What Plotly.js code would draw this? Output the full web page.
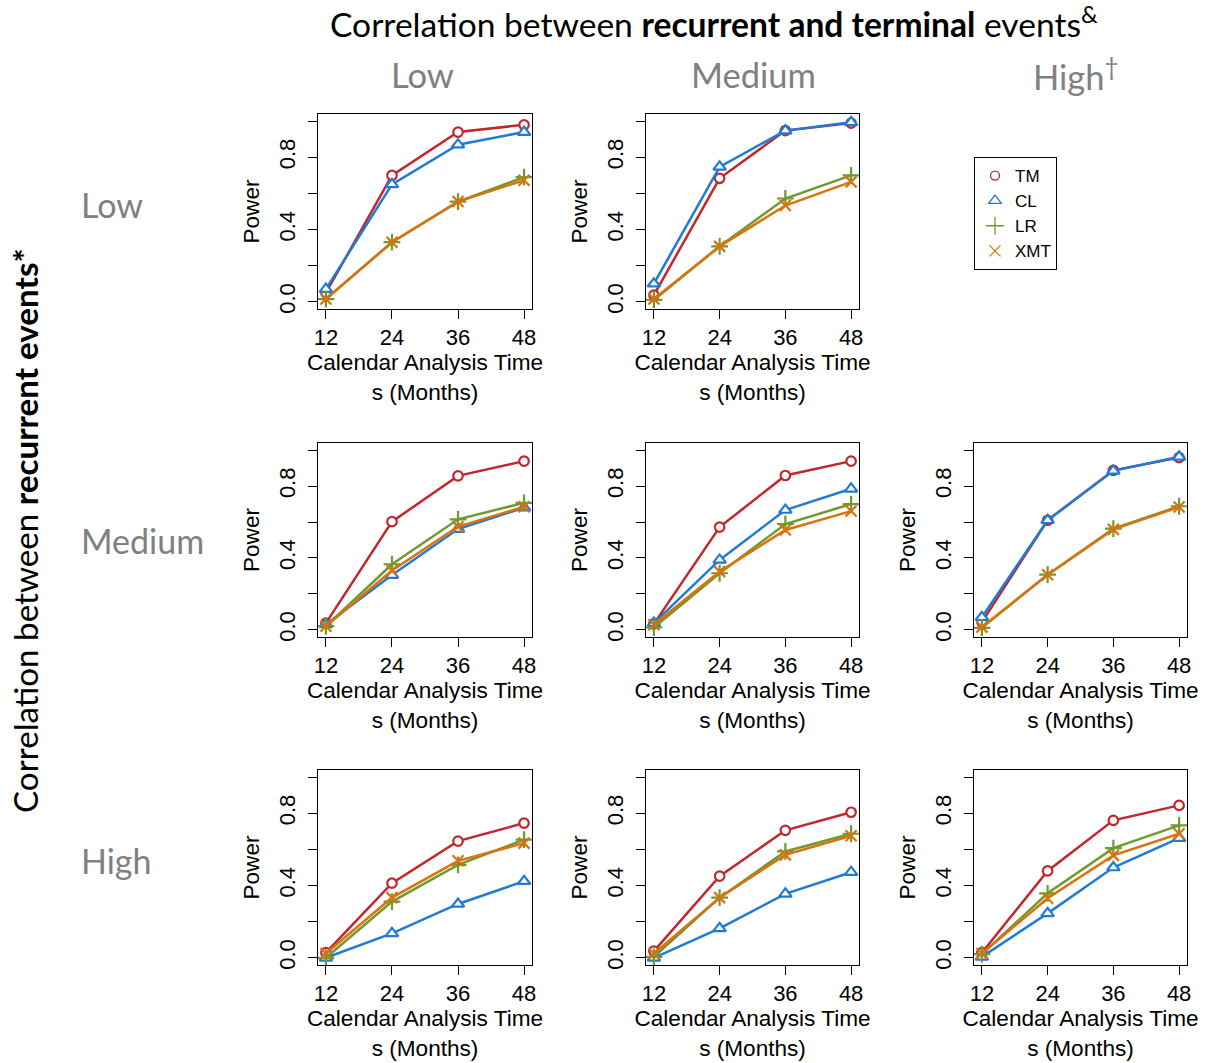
<!DOCTYPE html>
<html>
<head>
<meta charset="utf-8">
<script src="https://cdn.plot.ly/plotly-3.0.1.min.js"></script>
<style>body{margin:0;background:#fff}#chart{width:1206px;height:1063px}</style>
</head>
<body>
<div id="chart"></div>
<script>
// Calendar analysis times (months)
const months = [12, 24, 36, 48];
const methods = ['TM', 'CL', 'LR', 'XMT'];
const levels = ['Low', 'Medium', 'High'];

// Power values: rows = correlation between recurrent events, cols = recurrent-terminal correlation
// Row Low
const recLow_terLow_TM  = [0.05, 0.70, 0.94, 0.98];
const recLow_terLow_CL  = [0.07, 0.65, 0.87, 0.94];
const recLow_terLow_LR  = [0.015, 0.33, 0.555, 0.69];
const recLow_terLow_XMT = [0.015, 0.33, 0.555, 0.673];

const recLow_terMed_TM  = [0.037, 0.684, 0.948, 0.99];
const recLow_terMed_CL  = [0.10, 0.747, 0.948, 0.994];
const recLow_terMed_LR  = [0.01, 0.307, 0.572, 0.70];
const recLow_terMed_XMT = [0.015, 0.307, 0.533, 0.664];

// Row Medium
const recMed_terLow_TM  = [0.037, 0.602, 0.857, 0.939];
const recMed_terLow_CL  = [0.03, 0.305, 0.561, 0.68];
const recMed_terLow_LR  = [0.02, 0.365, 0.615, 0.707];
const recMed_terLow_XMT = [0.02, 0.33, 0.574, 0.685];

const recMed_terMed_TM  = [0.033, 0.572, 0.859, 0.939];
const recMed_terMed_CL  = [0.037, 0.389, 0.667, 0.785];
const recMed_terMed_LR  = [0.013, 0.315, 0.589, 0.70];
const recMed_terMed_XMT = [0.028, 0.324, 0.556, 0.661];

const recMed_terHigh_TM  = [0.043, 0.61, 0.888, 0.959];
const recMed_terHigh_CL  = [0.07, 0.61, 0.885, 0.963];
const recMed_terHigh_LR  = [0.011, 0.307, 0.563, 0.688];
const recMed_terHigh_XMT = [0.015, 0.307, 0.559, 0.684];

// Row High
const recHigh_terLow_TM  = [0.028, 0.413, 0.646, 0.746];
const recHigh_terLow_CL  = [0.0, 0.135, 0.298, 0.424];
const recHigh_terLow_LR  = [0.0, 0.311, 0.515, 0.654];
const recHigh_terLow_XMT = [0.024, 0.333, 0.537, 0.635];

const recHigh_terMed_TM  = [0.037, 0.452, 0.706, 0.806];
const recHigh_terMed_CL  = [0.0, 0.163, 0.354, 0.474];
const recHigh_terMed_LR  = [0.005, 0.333, 0.589, 0.687];
const recHigh_terMed_XMT = [0.024, 0.333, 0.57, 0.676];

const recHigh_terHigh_TM  = [0.028, 0.481, 0.761, 0.844];
const recHigh_terHigh_CL  = [0.005, 0.246, 0.50, 0.663];
const recHigh_terHigh_LR  = [0.02, 0.357, 0.607, 0.733];
const recHigh_terHigh_XMT = [0.024, 0.33, 0.567, 0.687];

const yTickVals = [0, 0.4, 0.8];
const yTickText = ['0.0', '0.4', '0.8'];
const yMinorVals = [0.2, 0.6, 1.0];

// Panels: [row, col, data]
const panels = [
  [0, 0, [recLow_terLow_TM, recLow_terLow_CL, recLow_terLow_LR, recLow_terLow_XMT]],
  [0, 1, [recLow_terMed_TM, recLow_terMed_CL, recLow_terMed_LR, recLow_terMed_XMT]],
  [1, 0, [recMed_terLow_TM, recMed_terLow_CL, recMed_terLow_LR, recMed_terLow_XMT]],
  [1, 1, [recMed_terMed_TM, recMed_terMed_CL, recMed_terMed_LR, recMed_terMed_XMT]],
  [1, 2, [recMed_terHigh_TM, recMed_terHigh_CL, recMed_terHigh_LR, recMed_terHigh_XMT]],
  [2, 0, [recHigh_terLow_TM, recHigh_terLow_CL, recHigh_terLow_LR, recHigh_terLow_XMT]],
  [2, 1, [recHigh_terMed_TM, recHigh_terMed_CL, recHigh_terMed_LR, recHigh_terMed_XMT]],
  [2, 2, [recHigh_terHigh_TM, recHigh_terHigh_CL, recHigh_terHigh_LR, recHigh_terHigh_XMT]]
];

const W = 1206, H = 1063;
const colPx = [[318, 532], [646, 859], [974, 1187]];
const rowPx = [[114, 309], [443, 637], [770, 965]];

const colors = ['#C1272D', '#1F7BD6', '#6F9A2E', '#D9720F'];
const symbols = ['circle', 'triangle-up', 'cross-thin-open', 'x-thin-open'];
const sizes = [9.5, 11, 12, 11];
const fills = ['white', 'white', null, null];

const axisFont = {family: 'Liberation Sans, Arial, sans-serif', size: 22, color: '#000'};
const titleFont = {family: 'Liberation Sans, Arial, sans-serif', size: 22.6, color: '#000'};
const traces = [];
const layout = {
  width: W, height: H,
  margin: {l: 0, r: 0, t: 0, b: 0},
  paper_bgcolor: '#fff', plot_bgcolor: '#fff',
  showlegend: true,
  legend: {
    x: 974 / W, y: 1 - 157 / H, xanchor: 'left', yanchor: 'top',
    bordercolor: '#000', borderwidth: 1, bgcolor: '#fff',
    font: {family: 'Liberation Sans, Arial, sans-serif', size: 17, color: '#000'},
    itemwidth: 30, tracegroupgap: 0
  },
  annotations: [],
  font: axisFont
};

panels.forEach((p, i) => {
  const k = i + 1;
  const xa = 'xaxis' + (k === 1 ? '' : k);
  const ya = 'yaxis' + (k === 1 ? '' : k);
  const [r, c, data] = p;
  layout[xa] = {
    domain: [colPx[c][0] / W, colPx[c][1] / W],
    anchor: 'y' + (k === 1 ? '' : k),
    range: [10.56, 49.44],
    tickvals: months, ticktext: months.map(String),
    ticks: 'outside', ticklen: 9, tickwidth: 1, tickcolor: '#000',
    showline: true, linecolor: '#000', linewidth: 1, mirror: true,
    showgrid: false, zeroline: false,
    tickfont: axisFont,
    title: {text: 'Calendar Analysis Time<br>s (Months)', font: titleFont, standoff: 3}
  };
  layout[ya] = {
    domain: [1 - rowPx[r][1] / H, 1 - rowPx[r][0] / H],
    anchor: 'x' + (k === 1 ? '' : k),
    range: [-0.04, 1.04],
    tickvals: yTickVals, ticktext: yTickText, tickangle: -90,
    ticks: 'outside', ticklen: 9, tickwidth: 1, tickcolor: '#000',
    ticklabelstandoff: 4,
    minor: {tickvals: yMinorVals, ticks: 'outside', ticklen: 9, tickwidth: 1, tickcolor: '#000', showgrid: false},
    showline: true, linecolor: '#000', linewidth: 1, mirror: true,
    showgrid: false, zeroline: false,
    tickfont: axisFont,
    title: {text: 'Power', font: titleFont, standoff: 9}
  };
  data.forEach((vals, m) => {
    traces.push({
      type: 'scatter', mode: 'lines+markers',
      x: months, y: vals,
      xaxis: 'x' + (k === 1 ? '' : k), yaxis: 'y' + (k === 1 ? '' : k),
      name: methods[m], showlegend: false,
      line: {color: colors[m], width: 2.5},
      marker: {
        symbol: symbols[m], size: sizes[m],
        color: fills[m] || colors[m],
        line: {color: colors[m], width: 2.2}
      },
      cliponaxis: false
    });
  });
});

// legend-only entries (markers only, as in the reference)
const legSizes = [9, 11, 13, 11];
methods.forEach((m, j) => {
  traces.push({
    type: 'scatter', mode: 'markers', x: [null], y: [null],
    xaxis: 'x', yaxis: 'y', name: m, showlegend: true,
    marker: {
      symbol: ['circle-open', 'triangle-up-open', 'cross-thin-open', 'x-thin-open'][j],
      size: legSizes[j], color: colors[j],
      line: {color: colors[j], width: 1.3}
    }
  });
});

const headFont = 'Lato, "Open Sans", sans-serif';
const gray = '#808080';
const ann = layout.annotations;
ann.push({
  xref: 'paper', yref: 'paper', x: 714 / W, y: 1 - 22 / H, xanchor: 'center', yanchor: 'middle',
  text: 'Correlation between <b>recurrent and terminal</b> events<sup>&</sup>',
  showarrow: false, font: {family: headFont, size: 33.6, color: '#000'}
});
const colHeadX = [422, 753, 1076];
levels.forEach((lv, i) => {
  ann.push({
    xref: 'paper', yref: 'paper', x: colHeadX[i] / W, y: 1 - 74 / H, xanchor: 'center', yanchor: 'middle',
    text: lv + (i === 2 ? '<sup>†</sup>' : ''), showarrow: false,
    font: {family: headFont, size: 34.5, color: gray}
  });
});
const rowHeadY = [205, 540, 860];
levels.forEach((lv, i) => {
  ann.push({
    xref: 'paper', yref: 'paper', x: 79 / W, y: 1 - rowHeadY[i] / H, xanchor: 'left', yanchor: 'middle',
    text: lv, showarrow: false,
    font: {family: headFont, size: 34, color: gray}
  });
});
ann.push({
  xref: 'paper', yref: 'paper', x: 25 / W, y: 1 - 531 / H, xanchor: 'center', yanchor: 'middle',
  textangle: -90,
  text: 'Correlation between <b>recurrent events*</b>',
  showarrow: false, font: {family: headFont, size: 33.2, color: '#000'}
});

Plotly.newPlot('chart', traces, layout, {staticPlot: true});
</script>
</body>
</html>
